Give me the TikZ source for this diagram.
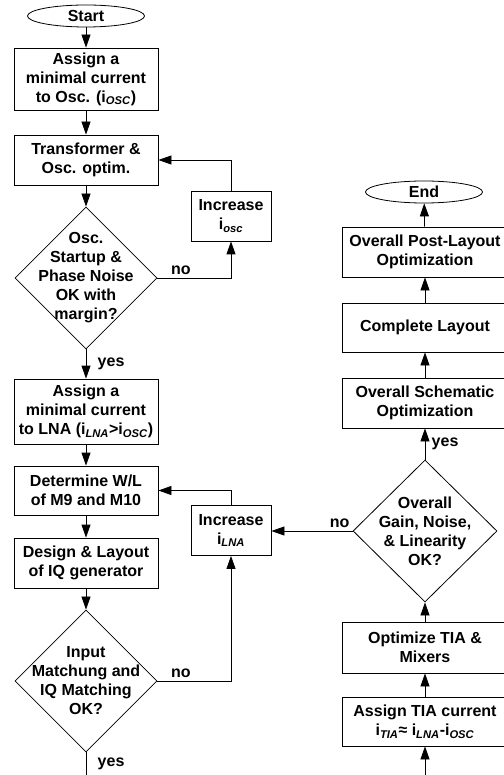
\documentclass[tikz,border=0pt]{standalone}
\usepackage{fontspec}
\setmainfont{Liberation Sans}
\usetikzlibrary{shapes.geometric,arrows.meta}

\newcommand{\cur}[1]{i\textsubscript{\textit{#1}}}

\begin{document}
\begin{tikzpicture}[x=1pt,y=-1pt,>={Triangle[length=13pt,width=9pt]},line width=0.8pt,
  font=\fontsize{16}{19}\selectfont\bfseries,
  term/.style={draw,ellipse,minimum width=117pt,minimum height=22pt,inner sep=0pt},
  procbox/.style={draw,rectangle,align=center,minimum width=144pt,inner sep=0pt},
  widebox/.style={procbox,minimum width=166pt},
  incbox/.style={procbox,minimum width=80pt,minimum height=50pt},
  decis/.style={draw,diamond,aspect=1,align=center,minimum width=142pt,minimum height=142pt,inner sep=-25pt}]
    \useasboundingbox (0,0) rectangle (503,775);

    % left column
    \node[term] (start) at (86,16) {Start};
    \node[procbox,minimum height=62pt] (b1) at (86,79) {Assign a\\minimal current\\to Osc. (\cur{OSC})};
    \node[procbox,minimum height=50pt] (b2) at (86,160) {Transformer \&\\Osc. optim.};
    \node[decis] (d1) at (86,278) {Osc.\\Startup \&\\Phase Noise\\OK with\\margin?};
    \node[incbox] (inc1) at (231,216) {Increase\\\cur{osc}};
    \node[procbox,minimum height=65pt] (b3) at (86,411.5) {Assign a\\minimal current\\to LNA (\cur{LNA}>\cur{OSC})};
    \node[procbox,minimum height=49pt] (b4) at (86,490.5) {Determine W/L\\of M9 and M10};
    \node[procbox,minimum height=50pt] (b5) at (86,563) {Design \& Layout\\of IQ generator};
    \node[decis] (d2) at (86,681) {Input\\Matchung and\\IQ Matching\\OK?};
    \node[incbox] (inc2) at (231,530.5) {Increase\\\cur{LNA}};
    \coordinate (lbot) at (86,775);

    % right column
    \node[term] (end) at (424,192) {End};
    \node[widebox,minimum height=50pt] (r1) at (425,252) {Overall Post-Layout\\Optimization};
    \node[widebox,minimum height=49pt] (r2) at (425,327.5) {Complete Layout};
    \node[widebox,minimum height=50pt] (r3) at (425,403) {Overall Schematic\\Optimization};
    \node[decis,minimum width=144pt] (d3) at (425,531) {Overall\\Gain, Noise,\\\& Linearity\\OK?};
    \node[widebox,minimum height=51pt] (r4) at (425,647.5) {Optimize TIA \&\\Mixers};
    \node[widebox,minimum height=49pt] (r5) at (425,721.5) {Assign TIA current\\\cur{TIA}≈ \cur{LNA}-\cur{OSC}};
    \coordinate (rbot) at (425,775);

    \draw[->] (start) -- (b1);
    \draw[->] (b1) -- (b2);
    \draw[->] (b2) -- (d1);
    \draw[->] (d1.east) -| node[pos=0.16,above] {no} (inc1.south);
    \draw[->] (inc1.north) |- (b2.east);
    \draw[->] (d1.south) -- node[right=8pt] {yes} (b3.north);
    \draw[->] (b3) -- (b4);
    \draw[->] (b4) -- (b5);
    \draw[->] (b5) -- (d2);
    \draw[->] (d2.east) -| node[pos=0.16,above] {no} (inc2.south);
    \draw[->] (inc2.north) |- (b4.east);
    \draw (d2.south) -- node[right=8pt] {yes} (lbot);

    \draw[->] (rbot) -- (r5);
    \draw[->] (r5) -- (r4);
    \draw[->] (r4) -- (d3);
    \draw[->] (d3.west) -- node[pos=0.16,above] {no} (d3.west -| inc2.east);
    \draw[->] (d3.north) -- node[right=3pt] {yes} (r3.south);
    \draw[->] (r3) -- (r2);
    \draw[->] (r2) -- (r1);
    \draw[->] (r1) -- (end);
\end{tikzpicture}
\end{document}
